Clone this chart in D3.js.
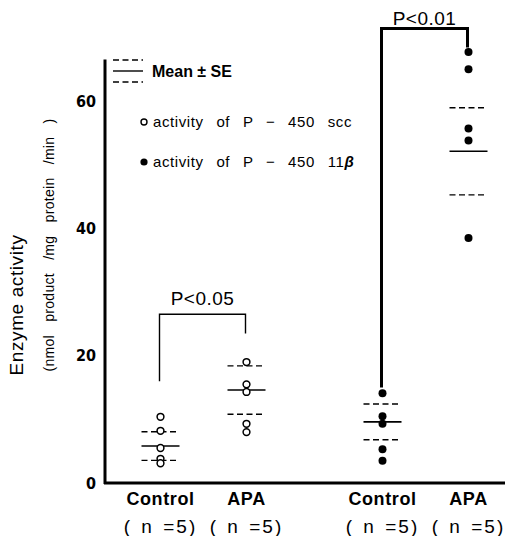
<!DOCTYPE html>
<html>
<head>
<meta charset="utf-8">
<script src="https://cdn.jsdelivr.net/npm/d3@7"></script>
<style>
  body { margin: 0; background: #fff; }
  svg { display: block; font-family: "Liberation Sans", Arial, sans-serif; }
</style>
</head>
<body>
<div id="chart"></div>
<script>
// enzymes (panels) and groups inside each panel
var enzymes = ['scc', '11b']
var groups = ['Control', 'APA']

// individual values (nmol product / mg protein / min)
var sccControl = [10.4, 8.2, 5.5, 3.8, 3.1]
var sccAPA = [19.0, 15.5, 14.3, 9.3, 8.0]
var b11Control = [14.1, 10.5, 9.3, 5.3, 3.5]
var b11APA = [67.7, 65.0, 55.7, 53.8, 38.5]

// mean and SE for each group (scc control, scc APA, 11b control, 11b APA)
var means = [5.8, 14.6, 9.6, 52.1]
var ses = [2.25, 3.8, 2.8, 6.85]

var yTicks = [0, 20, 40, 60]
var pLabels = ['P<0.05', 'P<0.01']

var svgWidth = 505,
    svgHeight = 536

var series = [
    { enzyme: 'scc', group: 'Control', values: sccControl },
    { enzyme: 'scc', group: 'APA', values: sccAPA },
    { enzyme: '11b', group: 'Control', values: b11Control },
    { enzyme: '11b', group: 'APA', values: b11APA }
]
series.forEach((s, i) => { s.mean = means[i]; s.se = ses[i] })

var svg = d3.select('#chart').append('svg')
    .attr('width', svgWidth)
    .attr('height', svgHeight)

var yScale = d3.scaleLinear()
    .domain([0, 60])
    .range([483, 101])

// outer scale puts the two enzymes, inner one the two groups
var xPanel = d3.scalePoint().domain(enzymes).range([203.5, 425.5])
var xGroup = d3.scalePoint().domain(groups).range([-43, 43])
var xval = d => xPanel(d.enzyme) + xGroup(d.group)

// axes lines
svg.append('line')
    .attr('x1', 105).attr('x2', 105)
    .attr('y1', yScale(66.5)).attr('y2', yScale(0) + 1)
    .attr('stroke', '#000').attr('stroke-width', 3)
svg.append('line')
    .attr('x1', 104).attr('x2', svgWidth)
    .attr('y1', yScale(0)).attr('y2', yScale(0))
    .attr('stroke', '#000').attr('stroke-width', 3)

var yAxis = svg.append('g')
    .attr('transform', 'translate(105,0)')
    .call(d3.axisLeft(yScale).tickValues(yTicks).tickSize(0).tickPadding(9).tickFormat(d3.format('d')))
yAxis.select('.domain').remove()
yAxis.selectAll('text')
    .attr('font-family', '"DejaVu Sans Condensed", "Liberation Sans", sans-serif')
    .attr('font-size', 16)
    .attr('font-weight', 'bold')
    .attr('fill', '#000')

// y axis titles
svg.append('text')
    .attr('transform', 'translate(23,305) rotate(-90)')
    .attr('text-anchor', 'middle')
    .attr('font-size', 19)
    .attr('letter-spacing', 0.6)
    .text('Enzyme activity')
svg.append('text')
    .attr('transform', 'translate(54,245) rotate(-90)')
    .attr('text-anchor', 'middle')
    .attr('font-size', 14)
    .attr('word-spacing', 9)
    .attr('letter-spacing', 0.3)
    .text('(nmol product /mg protein /min )')

// x labels
var xLabels = svg.append('g')
series.forEach(s => {
    xLabels.append('text')
        .attr('x', xval(s)).attr('y', 505)
        .attr('text-anchor', 'middle')
        .attr('font-size', 18)
        .attr('font-weight', 'bold')
        .attr('letter-spacing', 0.6)
        .text(s.group)
    xLabels.append('text')
        .attr('x', xval(s)).attr('y', 533)
        .attr('text-anchor', 'middle')
        .attr('font-size', 19)
        .attr('word-spacing', 2)
        .attr('letter-spacing', 2)
        .text('( n =5)')
})

// mean and SE lines
var halfWidth = 19
var grp = svg.selectAll('g.group')
    .data(series)
    .enter().append('g')
    .attr('class', 'group')

grp.append('line')
    .attr('x1', d => xval(d) - halfWidth).attr('x2', d => xval(d) + halfWidth)
    .attr('y1', d => yScale(d.mean)).attr('y2', d => yScale(d.mean))
    .attr('stroke', '#000').attr('stroke-width', 1.6)

grp.selectAll('line.se')
    .data(d => [d.mean + d.se, d.mean - d.se].map(v => ({ s: d, v: v })))
    .enter().append('line')
    .attr('class', 'se')
    .attr('x1', d => xval(d.s) - halfWidth).attr('x2', d => xval(d.s) + halfWidth)
    .attr('y1', d => yScale(d.v)).attr('y2', d => yScale(d.v))
    .attr('stroke', '#000').attr('stroke-width', 1.4)
    .attr('stroke-dasharray', '6,3.5')

// points
grp.selectAll('circle')
    .data(d => d.values.map(v => ({ s: d, v: v })))
    .enter().append('circle')
    .attr('cx', d => xval(d.s))
    .attr('cy', d => yScale(d.v))
    .attr('r', d => d.s.enzyme === 'scc' ? 3.4 : 4)
    .attr('fill', d => d.s.enzyme === 'scc' ? '#fff' : '#000')
    .attr('stroke', '#000')
    .attr('stroke-width', d => d.s.enzyme === 'scc' ? 1.5 : 0)

// significance brackets
var brackets = [
    { enzyme: 'scc', top: yScale(26.5), left: yScale(16.0), right: yScale(23.5), width: 1.4, label: pLabels[0], ty: 305 },
    { enzyme: '11b', top: yScale(71.4), left: yScale(15.0), right: yScale(68.4), width: 3, label: pLabels[1], ty: 25 }
]
brackets.forEach(b => {
    var xl = xPanel(b.enzyme) + xGroup('Control') - 1
    var xr = xPanel(b.enzyme) + xGroup('APA') - 1
    svg.append('path')
        .attr('d', 'M' + xl + ',' + b.left + 'V' + b.top + 'H' + xr + 'V' + b.right)
        .attr('fill', 'none')
        .attr('stroke', '#000')
        .attr('stroke-width', b.width)
    svg.append('text')
        .attr('x', (xl + xr) / 2).attr('y', b.ty)
        .attr('text-anchor', 'middle')
        .attr('font-size', 19)
        .attr('letter-spacing', 0.5)
        .text(b.label)
})

// legend
var legend = svg.append('g')
legend.selectAll('line')
    .data([60, 71, 82])
    .enter().append('line')
    .attr('x1', 113).attr('x2', 143)
    .attr('y1', d => d).attr('y2', d => d)
    .attr('stroke', '#000')
    .attr('stroke-width', 1.4)
    .attr('stroke-dasharray', (d, i) => i === 1 ? null : '6,3.5')
legend.append('text')
    .attr('x', 152).attr('y', 77)
    .attr('font-size', 16)
    .attr('font-weight', 'bold')
    .text('Mean ± SE')
legend.append('circle')
    .attr('cx', 144).attr('cy', 122).attr('r', 3)
    .attr('fill', '#fff').attr('stroke', '#000').attr('stroke-width', 1.4)
legend.append('text')
    .attr('x', 153).attr('y', 127)
    .attr('font-size', 15)
    .attr('word-spacing', 8)
    .attr('letter-spacing', 0.6)
    .text('activity of P − 450 scc')
legend.append('circle')
    .attr('cx', 144).attr('cy', 162).attr('r', 3.6)
    .attr('fill', '#000')
var t2 = legend.append('text')
    .attr('x', 153).attr('y', 167)
    .attr('font-size', 15)
    .attr('word-spacing', 8)
    .attr('letter-spacing', 0.6)
t2.append('tspan').text('activity of P − 450 11')
t2.append('tspan').attr('font-style', 'italic').attr('font-weight', 'bold').text('β')
</script>
</body>
</html>
